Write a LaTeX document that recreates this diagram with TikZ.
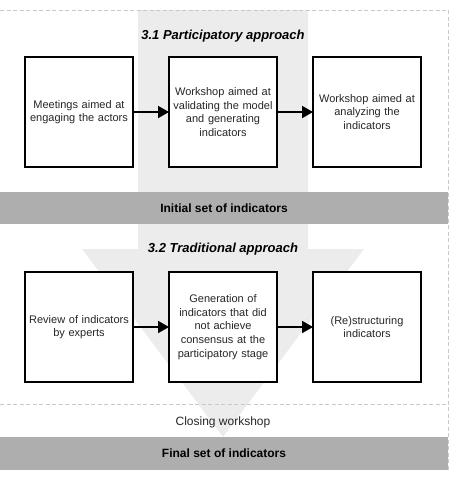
\documentclass[tikz,border=0pt]{standalone}
\usepackage{fontspec}
\setmainfont{Liberation Sans}
\usetikzlibrary{arrows.meta, positioning}

\definecolor{shaftgray}{RGB}{236,236,236}
\definecolor{bandgray}{RGB}{174,174,174}
\definecolor{framegray}{RGB}{200,200,200}

\begin{document}
\begin{tikzpicture}
	[>={Triangle[length=11pt,width=12pt]}, x=1pt, y=1pt, node distance=36pt,
	stepbox/.style={draw, line width=1.2pt, fill=white, minimum width=108pt, minimum height=110pt, inner sep=0pt, outer sep=0pt, text width=100pt, align=center, font=\fontsize{11}{13.6}\selectfont, text=black!85},
	band/.style={fill=bandgray, minimum width=448pt, inner sep=0pt, outer sep=0pt, font=\fontsize{12}{14}\selectfont\bfseries},
	phase/.style={font=\fontsize{13}{15}\selectfont\bfseries\itshape},
	flow/.style={->, line width=1.8pt},
	frame/.style={draw=framegray, line width=0.8pt, dash pattern=on 4pt off 2.5pt}]
	\useasboundingbox (0,0) rectangle (453,-479);
	% big arrow in the background
	\fill[shaftgray] (138,-10) -- (308,-10) -- (308,-249) -- (364,-249) -- (223,-437) -- (82,-249) -- (138,-249) -- cycle;
	% frame
	\draw[frame] (0,-10) -- (448,-10) -- (448,-470);
	\draw[frame] (0,-404) -- (448,-404);
	%\begin{scope}
	\node (parttitle) [phase] at (223,-36) {3.1 Participatory approach};
	\node (meet) [stepbox] at (79,-112) {Meetings aimed at\\engaging the actors};
	\node (valid) [stepbox, right = of meet] {Workshop aimed at\\validating the model\\and generating\\indicators};
	\node (analyze) [stepbox, right = of valid] {Workshop aimed at\\analyzing the\\indicators};
	\node (initial) [band, minimum height=32pt] at (224,-208) {Initial set of indicators};
	\node (tradtitle) [phase] at (223,-249) {3.2 Traditional approach};
	\node (review) [stepbox, below = 105pt of meet] {Review of indicators\\by experts};
	\node (generate) [stepbox, right = of review] {Generation of\\indicators that did\\not achieve\\consensus at the\\participatory stage};
	\node (restruct) [stepbox, right = of generate] {(Re)structuring\\indicators};
	\node (closing) [font=\fontsize{12}{14}\selectfont, text=black!85] at (223,-422) {Closing workshop};
	\node (final) [band, minimum height=33pt] at (224,-453.5) {Final set of indicators};
	\path[flow]
	(meet) edge (valid)
	(valid) edge (analyze)
	(review) edge (generate)
	(generate) edge (restruct);
\end{tikzpicture}
\end{document}
